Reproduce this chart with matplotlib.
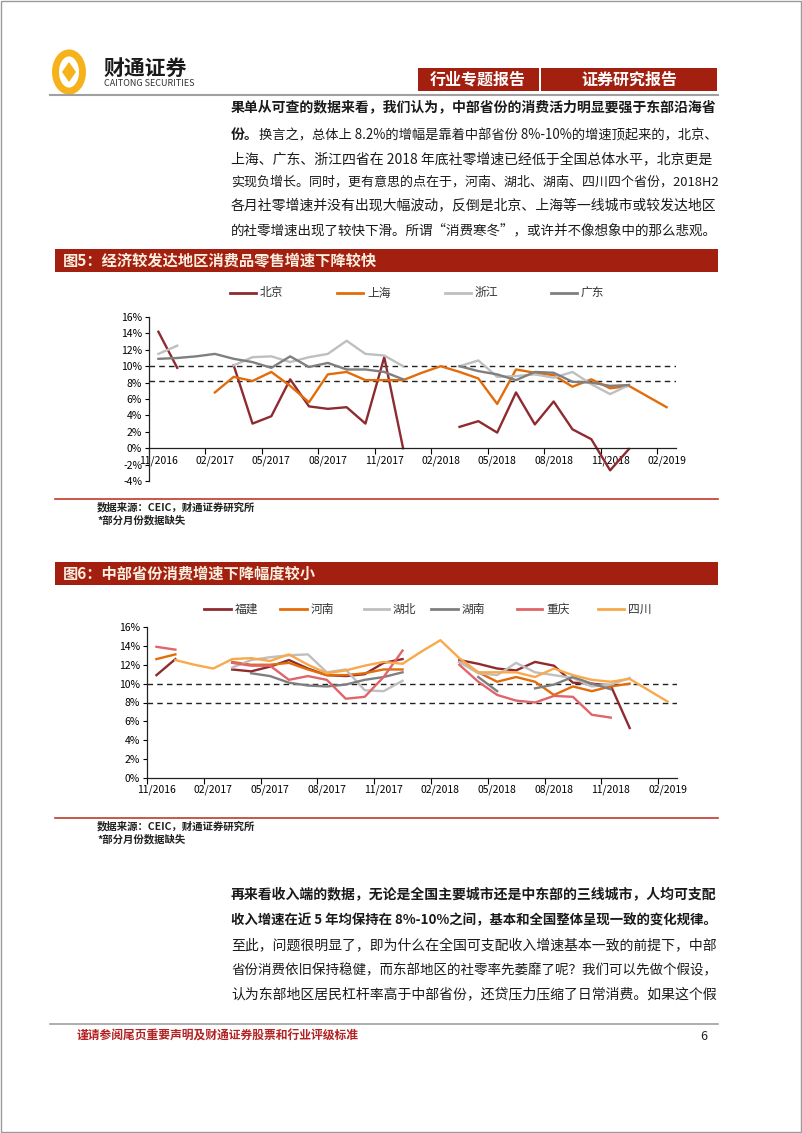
import numpy as np
import matplotlib
matplotlib.use('Agg')
import matplotlib.pyplot as plt
from matplotlib.patches import Rectangle, Circle, Polygon
from matplotlib.lines import Line2D

plt.rcParams['font.family'] = ['Noto Sans CJK SC', 'DejaVu Sans']
plt.rcParams['axes.unicode_minus'] = False

nan = np.nan

# ---- data (monthly retail sales growth, %), 11/2016 .. 02/2019 ----
months = ['11/2016', '12/2016', '01/2017', '02/2017', '03/2017', '04/2017', '05/2017',
          '06/2017', '07/2017', '08/2017', '09/2017', '10/2017', '11/2017', '12/2017',
          '01/2018', '02/2018', '03/2018', '04/2018', '05/2018', '06/2018', '07/2018',
          '08/2018', '09/2018', '10/2018', '11/2018', '12/2018', '01/2019', '02/2019']
tick_labels = ['11/2016', '02/2017', '05/2017', '08/2017', '11/2017',
               '02/2018', '05/2018', '08/2018', '11/2018', '02/2019']

beijing = [14.2, 9.8, nan, nan, 10.1, 3.0, 3.9, 8.4, 5.1, 4.8, 5.0, 3.0, 11.1, 0.0,
           nan, nan, 2.6, 3.3, 1.9, 6.8, 2.9, 5.7, 2.3, 1.1, -2.7, -0.1, nan, nan]
shanghai = [nan, nan, nan, 6.8, 8.7, 8.2, 9.3, 7.6, 5.6, 9.0, 9.3, 8.3, 8.3, 8.3,
            9.2, 10.0, 9.3, 8.5, 5.4, 9.6, 9.2, 8.9, 7.5, 8.4, 7.3, 7.6, 6.3, 5.0]
zhejiang = [11.5, 12.5, nan, nan, 10.1, 11.1, 11.2, 10.5, 11.1, 11.5, 13.1, 11.5, 11.3, 10.0,
            nan, nan, 10.0, 10.7, 8.7, 8.8, 9.0, 8.6, 9.3, 7.8, 6.6, 7.7, nan, nan]
guangdong = [10.9, 11.0, 11.2, 11.5, 10.9, 10.5, 9.8, 11.2, 9.9, 10.4, 9.6, 9.6, 9.3, 8.4,
             nan, nan, 10.0, 9.4, 9.0, 8.3, 9.3, 9.2, 8.1, 8.0, 7.6, 7.7, nan, nan]

fujian = [10.9, 12.6, nan, nan, 11.5, 11.3, 11.8, 12.5, 11.6, 10.9, 10.8, 11.0, 12.2, 12.6,
          nan, nan, 12.5, 12.1, 11.6, 11.4, 12.3, 11.9, 10.1, 10.0, 9.8, 5.3, nan, nan]
henan = [12.6, 13.1, nan, nan, 12.3, 12.0, 12.0, 12.2, 11.5, 10.9, 10.9, 11.1, 11.5, 11.5,
         nan, nan, 12.3, 11.2, 10.2, 10.7, 10.2, 8.8, 9.7, 9.2, 9.7, 10.0, nan, nan]
hubei = [nan, nan, nan, nan, 11.7, 12.5, 12.8, 13.0, 13.1, 11.2, 11.5, 9.3, 9.2, 10.3,
         nan, nan, 12.3, 11.1, 10.9, 12.2, 11.2, 10.9, 10.6, 9.7, 9.9, 10.6, nan, nan]
hunan = [nan, nan, nan, nan, nan, 11.1, 10.8, 10.1, 9.8, 9.7, 9.9, 10.4, 10.7, 11.2,
         nan, nan, nan, 10.7, 9.2, nan, 9.5, 9.9, 10.7, 10.0, 9.4, nan, nan, nan]
chongqing = [13.9, 13.6, nan, nan, 12.2, 11.9, 11.9, 10.4, 10.8, 10.4, 8.4, 8.6, 10.7, 13.5,
             nan, nan, 12.0, 10.2, 8.8, 8.2, 8.0, 8.7, 8.6, 6.7, 6.4, nan, nan, nan]
sichuan = [nan, 12.5, 12.0, 11.6, 12.6, 12.7, 12.4, 13.1, 12.0, 11.1, 11.4, 11.9, 12.3, 12.1,
           13.4, 14.6, 12.7, 11.2, 11.2, 11.2, 10.7, 11.6, 10.9, 10.4, 10.2, 10.5, 9.3, 8.1]

ref1 = [10.0, 8.2]
ref2 = [10.0, 8.0]

DARKRED = '#8E2B30'
ORANGE = '#E36C0A'
LGRAY = '#BFBFBF'
DGRAY = '#7F7F7F'
PINK = '#E0656A'
LORANGE = '#F8A94B'
BAR = '#A31F10'

series1 = [('北京', beijing, DARKRED), ('上海', shanghai, ORANGE),
           ('浙江', zhejiang, LGRAY), ('广东', guangdong, DGRAY)]
series2 = [('福建', fujian, DARKRED), ('河南', henan, ORANGE), ('湖北', hubei, LGRAY),
           ('湖南', hunan, DGRAY), ('重庆', chongqing, PINK), ('四川', sichuan, LORANGE)]

W, H = 802, 1133
fig = plt.figure(figsize=(8.02, 11.33), dpi=100)
renderer = fig.canvas.get_renderer()


def fx(x):
    return x / W


def fy(y):
    return 1 - y / H


def txt(x, y, s, size=10, weight='normal', color='#1a1a1a', ha='left', right=None):
    t = fig.text(fx(x), fy(y), s, fontsize=size, fontweight=weight, color=color,
                 ha=ha, va='center')
    if right is not None:
        # shrink a body line that would run past the right margin
        w = t.get_window_extent(renderer).width
        if w > right - x:
            t.set_fontsize(size * (right - x) / w)
    return t


def rect(x0, y0, x1, y1, color):
    fig.add_artist(Rectangle((fx(x0), fy(y1)), fx(x1) - fx(x0), fy(y0) - fy(y1),
                             transform=fig.transFigure, facecolor=color, edgecolor='none'))


def hline(x0, x1, y, color, lw):
    fig.add_artist(Line2D([fx(x0), fx(x1)], [fy(y), fy(y)], transform=fig.transFigure,
                          color=color, lw=lw))


# page border
fig.add_artist(Rectangle((0.001, 0.001), 0.998, 0.998, transform=fig.transFigure,
                         facecolor='none', edgecolor='#9a9a9a', lw=1))

# ---- header ----
fig.add_artist(Circle((fx(69), fy(72)), 13.5 / W, transform=fig.transFigure,
                      facecolor='none', edgecolor='#F6B21B', lw=5))
fig.add_artist(Polygon([(fx(69), fy(62)), (fx(76), fy(72)), (fx(69), fy(82)), (fx(62), fy(72))],
                       closed=True, transform=fig.transFigure,
                       facecolor='#F6B21B', edgecolor='none'))
txt(104, 68, '财通证券', size=15, weight='bold', color='#1a1a1a')
txt(104, 84, 'CAITONG SECURITIES', size=6.5, color='#333333')
rect(418, 68, 539, 91, BAR)
rect(541, 68, 717, 91, BAR)
txt(478, 79.5, '行业专题报告', size=11.5, weight='bold', color='white', ha='center')
txt(629, 79.5, '证券研究报告', size=11.5, weight='bold', color='white', ha='center')
hline(50, 718, 95, '#a0a0a0', 1.5)

R = 718
# ---- body text 1 ----
txt(231, 107, '果单从可查的数据来看，我们认为，中部省份的消费活力明显要强于东部沿海省', weight='bold', right=R)
txt(231, 135, '份。', weight='bold')
txt(259, 135, '换言之，总体上 8.2%的增幅是靠着中部省份 8%-10%的增速顶起来的，北京、', right=R)
txt(231, 159, '上海、广东、浙江四省在 2018 年底社零增速已经低于全国总体水平，北京更是', right=R)
txt(231, 182, '实现负增长。同时，更有意思的点在于，河南、湖北、湖南、四川四个省份，2018H2', right=R)
txt(231, 205, '各月社零增速并没有出现大幅波动，反倒是北京、上海等一线城市或较发达地区', right=R)
txt(231, 230, '的社零增速出现了较快下滑。所谓“消费寒冬”，或许并不像想象中的那么悲观。', right=R)

title_text = {249: '图5：经济较发达地区消费品零售增速下降较快',
              562: '图6：中部省份消费增速下降幅度较小'}


def chart(title_y, legend_y, series, legend_x, box, ylim, yticks, refs, src_y, zero_axis):
    rect(55, title_y, 718, title_y + 23, BAR)
    txt(63, title_y + 11.5, title_text[title_y], size=11, weight='bold', color='#FBEFDF')
    for (name, vals, col), (lx0, lx1) in zip(series, legend_x):
        fig.add_artist(Line2D([fx(lx0), fx(lx1)], [fy(legend_y), fy(legend_y)],
                              transform=fig.transFigure, color=col, lw=2))
        txt(lx1 + 4, legend_y, name, size=8.5, color='#333333')

    ax = fig.add_axes(box)
    for s in ['top', 'right']:
        ax.spines[s].set_visible(False)
    if zero_axis:
        ax.spines['bottom'].set_position(('data', 0))
    for s in ['left', 'bottom']:
        ax.spines[s].set_linewidth(0.9)
        ax.spines[s].set_color('#222222')

    x = np.arange(len(months))
    for r in refs:
        ax.axhline(r, color='#222222', lw=1.0, ls=(0, (4, 3)), zorder=1)
    for name, vals, col in series:
        ax.plot(x, vals, color=col, lw=1.7, zorder=2)
    ax.set_xlim(-0.5, len(months) - 0.5)
    ax.set_ylim(*ylim)
    ax.set_yticks(yticks)
    ax.set_yticklabels([f'{v}%' for v in yticks], fontsize=7.5)
    ax.set_xticks(np.arange(-0.5, len(months), 3))
    ax.set_xticklabels([])
    ax.set_xticks(np.arange(0, len(months), 3), minor=True)
    ax.set_xticklabels(tick_labels, minor=True, fontsize=7.5)
    ax.tick_params(axis='x', which='major', length=4, width=0.8, direction='out')
    ax.tick_params(axis='x', which='minor', length=0, pad=5)
    ax.tick_params(axis='y', length=3, width=0.8, pad=2)
    ax.patch.set_alpha(0)

    hline(55, 718, src_y, '#C0392B', 1.2)
    txt(97, src_y + 8, '数据来源：CEIC，财通证券研究所', size=7.5, weight='bold', color='#222222')
    txt(97, src_y + 21, '*部分月份数据缺失', size=7.5, weight='bold', color='#222222')
    return ax


chart(249, 293, series1,
      [(230, 256), (337, 363), (445, 471), (551, 577)],
      [fx(149), fy(481), (676 - 149) / W, (481 - 317) / H],
      (-4, 16), list(range(-4, 17, 2)), ref1, 499, True)

chart(562, 609, series2,
      [(204, 231), (280, 307), (364, 389), (431, 458), (517, 542), (598, 624)],
      [fx(147), fy(778), (677 - 147) / W, (778 - 627) / H],
      (0, 16), list(range(0, 17, 2)), ref2, 818, False)

# ---- body text 2 ----
txt(231, 895, '再来看收入端的数据，无论是全国主要城市还是中东部的三线城市，人均可支配', weight='bold', right=R)
txt(231, 920, '收入增速在近 5 年均保持在 8%-10%之间，基本和全国整体呈现一致的变化规律。', weight='bold', right=R)
txt(231, 945, '至此，问题很明显了，即为什么在全国可支配收入增速基本一致的前提下，中部', right=R)
txt(231, 969, '省份消费依旧保持稳健，而东部地区的社零率先萎靡了呢？我们可以先做个假设，', right=R)
txt(231, 994, '认为东部地区居民杠杆率高于中部省份，还贷压力压缩了日常消费。如果这个假', right=R)

# ---- footer ----
hline(50, 718, 1024, '#a0a0a0', 1.2)
txt(77, 1036, '谨请参阅尾页重要声明及财通证券股票和行业评级标准', size=8.5, weight='bold', color='#B22222')
txt(700, 1036, '6', size=9, color='#222222')

fig.savefig('out.png', dpi=100)
